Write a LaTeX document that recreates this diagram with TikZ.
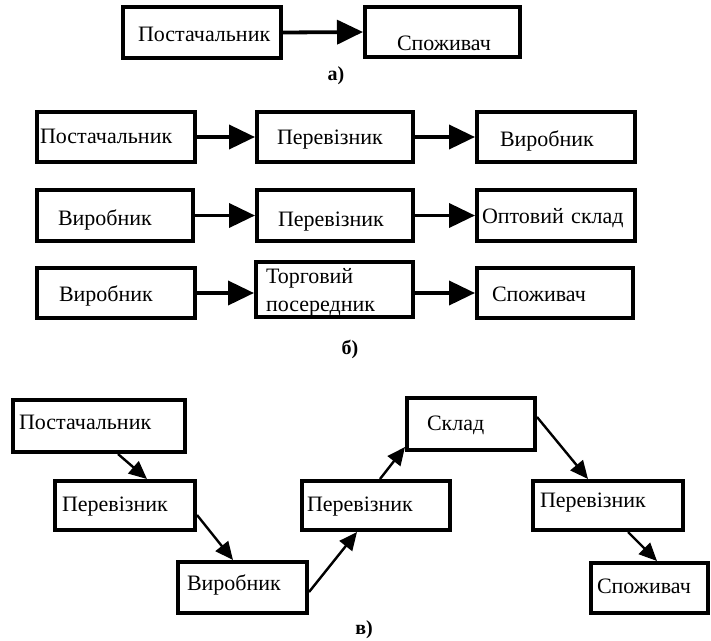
\documentclass[tikz,border=0pt]{standalone}
\usepackage{fontspec}
\setmainfont{Liberation Serif}
\usepackage{tikz}
\usetikzlibrary{positioning,arrows.meta}

\begin{document}
\begin{tikzpicture}[x=1pt,y=-1pt,bx/.style={draw,rectangle,line width=4pt,inner
sep=0pt,align=left,text depth=0pt,font=\fontsize{22}{28}\selectfont},ar/.style={line
width=3.8pt,-{Triangle[length=26pt,width=24pt]}},sar/.style={line
width=2.4pt,-{Triangle[length=18pt,width=16pt]}},lbl/.style={font=\fontsize{20}{24}\selectfont\bfseries}]
\useasboundingbox (0,0) rectangle (711,640);
\node[bx,text width=158pt,minimum height=51pt,text height=18pt] (a1) at (202,32.5) {\hspace*{15pt}Постачальник};
\node[bx,text width=155pt,minimum height=50pt,text height=36pt] (a2) at (442.5,32) {\hspace*{32pt}Споживач};
\draw[ar] (a1.east) -- (a2.west);
\node[lbl] (la) at (336,76) {а)};

\node[bx,text width=158pt,minimum height=50pt,text height=12pt] (b11) at (116,137) {\hspace*{3pt}Постачальник};
\node[bx,text width=156pt,minimum height=50pt,text height=14pt] (b12) at (335,137) {\hspace*{20pt}Перевізник};
\node[bx,text width=158pt,minimum height=50pt,text height=19pt] (b13) at (556,137) {\hspace*{23pt}Виробник};
\draw[ar] (b11.east) -- (b12.west);
\draw[ar] (b12.east) -- (b13.west);

\node[bx,text width=156pt,minimum height=51pt,text height=20pt] (b21) at (115,215.5) {\hspace*{21pt}Виробник};
\node[bx,text width=156pt,minimum height=51pt,text height=22pt] (b22) at (335,215.5) {\hspace*{21pt}Перевізник};
\node[bx,text width=158pt,minimum height=51pt,text height=16pt] (b23) at (556,215.5) {\hspace*{5pt}Оптовий склад};
\draw[ar] (b21.east) -- (b22.west);
\draw[ar] (b22.east) -- (b23.west);

\node[bx,text width=158pt,minimum height=50pt,text height=17pt] (b31) at (116,293) {\hspace*{22pt}Виробник};
\node[bx,text width=157pt,minimum height=55pt,text height=20pt,text depth=33pt] (b32) at (334.5,289.5)
  {\hspace*{10pt}Торговий\\\hspace*{10pt}посередник};
\node[bx,text width=156pt,minimum height=50pt,text height=16pt] (b33) at (555,293) {\hspace*{15pt}Споживач};
\draw[ar] (b31.east) -- (b31.east -| b32.west);
\draw[ar] (b32.east |- b33.west) -- (b33.west);
\node[lbl] (lb) at (350,349) {б)};

\node[bx,text width=172pt,minimum height=52pt,text height=6pt] (c1) at (99,426) {\hspace*{6pt}Постачальник};
\node[bx,text width=140pt,minimum height=49pt,text height=12pt] (c2) at (125,505.5) {\hspace*{7pt}Перевізник};
\node[bx,text width=129pt,minimum height=51pt,text height=5pt] (c3) at (242.5,587.5) {\hspace*{9pt}Виробник};
\node[bx,text width=148pt,minimum height=49pt,text height=12pt] (c4) at (376,505.5) {\hspace*{5pt}Перевізник};
\node[bx,text width=128pt,minimum height=52pt,text height=12pt] (c5) at (471,424) {\hspace*{20pt}Склад};
\node[bx,text width=150pt,minimum height=49pt,text height=4pt] (c6) at (608,505.5) {\hspace*{7pt}Перевізник};
\node[bx,text width=117pt,minimum height=50pt,text height=10pt] (c7) at (649.5,588) {\hspace*{6pt}Споживач};
\draw[sar] ([xshift=19pt]c1.south) -- ([xshift=22pt]c2.north);
\draw[sar] ([yshift=-9.5pt]c2.east) -- ([xshift=-9.5pt]c3.north);
\draw[sar] ([yshift=-4.5pt]c3.east) -- ([xshift=-19pt]c4.south);
\draw[sar] ([xshift=4pt]c4.north) -- ([yshift=5pt]c5.south west);
\draw[sar] ([yshift=7pt]c5.east) -- ([xshift=-20pt]c6.north);
\draw[sar] ([xshift=20pt]c6.south) -- ([xshift=7.5pt]c7.north);
\node[lbl] (lc) at (364,630) {в)};
\end{tikzpicture}
\end{document}
